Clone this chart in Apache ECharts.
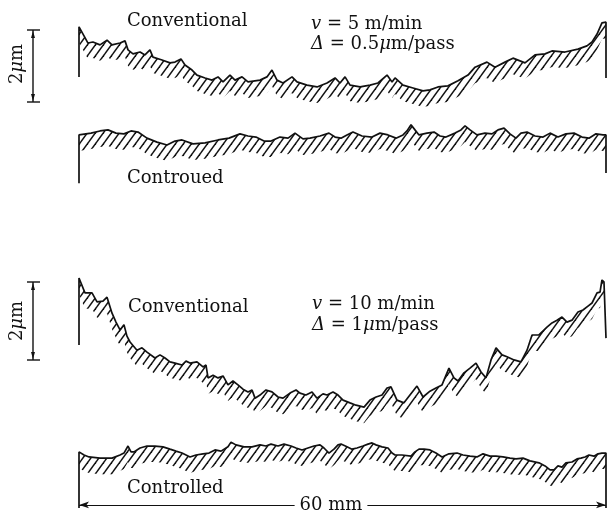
<!DOCTYPE html>
<html>
<head>
<meta charset="utf-8">
<script src="https://cdn.jsdelivr.net/npm/echarts@6/dist/echarts.min.js"></script>
<style>html,body{margin:0;padding:0;background:#fff}#c{width:608px;height:518px}</style>
</head>
<body>
<div id="c"></div>
<script>
// ---- data (x in mm along the 60 mm workpiece, h = profile height in µm) ----
const t1X = [0,0.57,1.02,1.59,2.39,3.19,3.76,4.67,5.24,5.58,6.15,6.95,7.51,8.08,8.42,9.45,10.36,10.93,11.61,12.07,12.87,13.43,14.35,15.14,15.83,16.40,17.19,17.76,18.56,19.24,20.61,21.40,21.97,22.54,23.23,24.25,24.82,25.96,27.10,28.24,29.15,29.72,30.29,30.86,32.00,33.14,34.04,35.07,35.64,35.98,36.89,38.03,39.17,39.96,40.87,42.01,43.15,44.29,45.09,46.45,47.36,48.50,49.41,50.78,51.92,53.06,53.85,55.33,56.81,57.83,58.41,58.98,59.54,60];
const t1H = [2.31,2.06,1.86,1.89,1.81,1.94,1.81,1.86,1.92,1.67,1.56,1.61,1.53,1.67,1.47,1.39,1.31,1.33,1.42,1.25,1.11,0.97,0.89,0.83,0.92,0.78,0.97,0.83,0.92,0.78,0.83,0.92,1.11,0.83,0.75,0.92,0.78,0.69,0.64,0.75,0.89,0.75,0.92,0.69,0.64,0.69,0.75,0.97,0.78,0.89,0.69,0.61,0.53,0.56,0.64,0.67,0.81,0.97,1.19,1.33,1.19,1.33,1.44,1.31,1.53,1.56,1.64,1.61,1.69,1.78,1.89,2.11,2.42,2.44];
const t1Ends = [[0,0.92],[60,0.89]];

const t2X = [0,1.37,2.39,3.30,4.21,5.12,5.92,6.72,7.74,8.88,10.02,10.93,11.73,12.98,14.35,15.83,17.08,18.33,19.24,20.15,21.06,21.86,22.88,23.80,24.59,25.50,26.30,27.44,28.46,29.15,29.83,30.51,31.19,32.22,33.36,34.27,35.18,36.09,36.89,37.34,37.80,38.25,38.71,39.62,40.42,41.10,41.78,42.81,43.49,43.95,44.52,45.31,46.22,47.02,47.70,48.39,49.07,49.75,50.32,51.01,51.92,52.83,53.63,54.53,55.44,56.36,57.27,58.06,58.86,59.66,60];
const t2H = [1.53,1.58,1.64,1.67,1.58,1.56,1.64,1.61,1.44,1.33,1.25,1.36,1.39,1.28,1.31,1.39,1.44,1.56,1.50,1.47,1.36,1.36,1.47,1.44,1.58,1.42,1.44,1.50,1.58,1.47,1.44,1.53,1.61,1.50,1.47,1.58,1.53,1.44,1.53,1.64,1.81,1.67,1.53,1.58,1.61,1.50,1.47,1.58,1.67,1.78,1.67,1.53,1.58,1.56,1.67,1.72,1.56,1.44,1.58,1.61,1.50,1.47,1.58,1.47,1.56,1.58,1.47,1.44,1.56,1.53,1.53];
const t2Ends = [[0,0.19],[60,0.47]];

const t3X = [0,0.68,1.48,2.05,2.73,3.19,3.76,4.21,4.67,5.12,5.46,5.81,6.60,7.17,7.74,8.65,9.22,9.79,10.36,10.93,11.73,12.18,12.64,13.43,14.12,14.46,14.69,15.26,15.83,16.40,16.96,17.53,18.10,18.67,19.24,19.70,20.04,20.61,21.29,21.97,22.66,23.23,24.02,24.71,25.16,25.84,26.53,27.10,27.78,28.24,28.92,29.49,30.06,30.85,31.54,32.45,33.13,33.82,34.50,35.07,35.52,36.20,37.00,37.68,38.48,39.17,39.96,40.64,41.33,42.12,42.69,43.15,43.83,44.52,45.20,45.77,46.34,46.91,47.48,48.16,48.73,49.53,50.32,51.01,51.58,52.37,53.28,53.85,54.42,54.99,55.56,56.13,56.81,57.38,57.95,58.41,58.98,59.32,59.54,59.77];
const t3H = [3.64,3.26,3.26,3.03,3.05,3.15,2.74,2.51,2.31,2.44,2.15,2.00,1.79,1.85,1.74,1.59,1.67,1.59,1.49,1.46,1.41,1.51,1.46,1.49,1.36,1.41,1.08,1.15,1.08,1.13,0.90,1.00,0.90,0.79,0.72,0.77,0.56,0.64,0.77,0.72,0.59,0.56,0.69,0.77,0.69,0.64,0.72,0.56,0.67,0.64,0.72,0.64,0.51,0.44,0.38,0.33,0.51,0.59,0.64,0.82,0.85,0.51,0.44,0.64,0.87,0.59,0.74,0.82,0.90,1.33,1.08,1.00,1.21,1.33,1.46,1.23,1.08,1.54,1.85,1.67,1.62,1.54,1.49,1.79,2.18,2.18,2.38,2.49,2.56,2.64,2.51,2.56,2.77,2.82,2.92,3.00,3.26,3.28,3.59,3.54];
const t3Ends = [[0,1.92],[60,2.10]];

const t4X = [0,0.57,1.14,2.39,3.76,4.67,5.12,5.58,5.92,6.26,6.95,7.74,8.65,9.56,10.36,11.04,11.73,12.64,13.32,14.12,14.80,15.48,16.17,16.96,17.31,17.87,18.79,19.70,20.61,21.29,21.86,22.66,23.34,24.14,24.71,25.39,26.07,26.75,27.44,27.89,28.46,29.03,29.49,29.83,30.51,31.08,31.65,32.33,32.90,33.36,33.81,34.50,35.18,35.64,35.98,36.77,37.80,38.25,38.71,39.28,39.96,40.64,41.33,42.12,43.04,43.72,44.52,45.31,46.00,46.79,47.48,48.27,49.07,49.75,50.55,51.35,52.37,53.06,53.63,54.08,54.53,54.99,55.44,56.13,56.70,57.15,57.61,58.06,58.63,59.09,59.54,60];
const t4H = [1.49,1.41,1.36,1.33,1.33,1.41,1.46,1.64,1.49,1.49,1.59,1.64,1.64,1.62,1.56,1.51,1.46,1.36,1.41,1.44,1.46,1.54,1.51,1.62,1.74,1.67,1.62,1.62,1.67,1.64,1.69,1.64,1.69,1.64,1.59,1.54,1.59,1.64,1.67,1.59,1.46,1.56,1.67,1.69,1.62,1.56,1.59,1.64,1.69,1.72,1.67,1.62,1.59,1.46,1.41,1.41,1.38,1.49,1.56,1.56,1.54,1.46,1.36,1.44,1.46,1.41,1.38,1.36,1.44,1.38,1.38,1.36,1.33,1.31,1.33,1.26,1.21,1.13,1.03,1.03,1.13,1.10,1.21,1.23,1.31,1.33,1.36,1.41,1.38,1.44,1.46,1.46];
const t4Ends = [[0,0.05],[60,0.05]];

const spanMM = [0, 60];
const labels = {
  conv1: 'Conventional', contoured: 'Controued',
  conv2: 'Conventional', controlled: 'Controlled',
  span: '60 mm', scale: '2'
};

// ---- styling / layout ----
const FONT = '"DejaVu Serif", "Liberation Serif", serif';
const INK = '#111';
const FS = 18;
const BAND = 16; // hatch band depth in px

function makeHatch() {
  const w = 8, h = 11;
  const c = document.createElement('canvas');
  c.width = w; c.height = h;
  const g = c.getContext('2d');
  g.strokeStyle = INK; g.lineWidth = 1.5;
  for (const dx of [-w, 0, w]) {
    g.beginPath(); g.moveTo(dx - w, 2 * h); g.lineTo(dx + 2 * w, -h); g.stroke();
  }
  return c;
}
const hatch = { image: makeHatch(), repeat: 'repeat' };

// panels: [top px, height px, yMax µm]
const panels = [[2,108,3],[82,108,3],[264,156,4],[432,78,2]];
const grids = panels.map(p => ({ left: 79, right: 2, top: p[0], height: p[1] }));
const xAxes = panels.map((p,i) => ({ type:'value', gridIndex:i, min:spanMM[0], max:spanMM[1], show:false }));
const yAxes = panels.map((p,i) => ({ type:'value', gridIndex:i, min:0, max:p[2], show:false }));

function bandSeries(i, xs, hs) {
  return {
    type: 'custom', xAxisIndex: i, yAxisIndex: i, silent: true, z: 1,
    data: xs.map((x, k) => [x, hs[k]]),
    renderItem(params, api) {
      if (params.dataIndex !== 0) return null;
      const top = xs.map((x, k) => api.coord([x, hs[k]]));
      const bot = top.map(p => [p[0], p[1] + BAND]).reverse();
      return { type: 'polygon', shape: { points: top.concat(bot) }, style: { fill: hatch, stroke: null } };
    }
  };
}
function lineSeries(i, xs, hs, ends, extra) {
  const data = [ends[0]].concat(xs.map((x, k) => [x, hs[k]]), [ends[1]]);
  return Object.assign({
    type: 'line', xAxisIndex: i, yAxisIndex: i, data, symbol: 'none', showSymbol: false,
    lineStyle: { color: INK, width: 1.7 }, z: 3, silent: true
  }, extra || {});
}

const series = [
  bandSeries(0, t1X, t1H), lineSeries(0, t1X, t1H, t1Ends),
  bandSeries(1, t2X, t2H), lineSeries(1, t2X, t2H, t2Ends),
  bandSeries(2, t3X, t3H), lineSeries(2, t3X, t3H, t3Ends),
  bandSeries(3, t4X, t4H), lineSeries(3, t4X, t4H, t4Ends, {
    markLine: {
      silent: true, symbol: ['arrow', 'arrow'], symbolSize: [5, 10], animation: false,
      lineStyle: { color: INK, width: 1.1, type: 'solid' },
      label: { show: false },
      data: [[{ coord: [spanMM[0], 0.13] }, { coord: [spanMM[1], 0.13] }]]
    }
  })
];

const R = {
  i: { fontStyle: 'italic', fontFamily: FONT, fontSize: FS, fill: INK },
  n: { fontFamily: FONT, fontSize: FS, fill: INK }
};
function txt(x, y, text, extra, styleExtra) {
  return Object.assign({ type: 'text', x, y, silent: true, z: 10, style: Object.assign({
    text, fill: INK, font: FS + 'px ' + FONT,
    align: 'left', verticalAlign: 'middle', rich: R }, styleExtra || {}) }, extra || {});
}
function scaleBar(x, y1, y2, ty) {
  const s = { stroke: INK, lineWidth: 1.4 };
  return [
    { type: 'line', shape: { x1: x, y1, x2: x, y2 }, style: s },
    { type: 'line', shape: { x1: x - 6, y1, x2: x + 7, y2: y1 }, style: s },
    { type: 'line', shape: { x1: x - 6, y1: y2, x2: x + 7, y2 }, style: s },
    { type: 'polygon', shape: { points: [[x, y1 + 1], [x - 2, y1 + 8], [x + 2, y1 + 8]] }, style: { fill: INK } },
    { type: 'polygon', shape: { points: [[x, y2 - 1], [x - 2, y2 - 8], [x + 2, y2 - 8]] }, style: { fill: INK } },
    txt(17, ty, '{n|' + labels.scale + '}{i|μ}{n|m}', { rotation: Math.PI / 2 }, { align: 'center' })
  ];
}

const graphic = [
  txt(127, 21, labels.conv1),
  txt(311, 24, '{i|v}{n| = 5 m/min}'),
  txt(311, 44, '{i|Δ}{n| = 0.5}{i|μ}{n|m/pass}'),
  txt(127, 178, labels.contoured),
  txt(128, 307, labels.conv2),
  txt(312, 304, '{i|v}{n| = 10 m/min}'),
  txt(312, 325, '{i|Δ}{n| = 1}{i|μ}{n|m/pass}'),
  txt(127, 488, labels.controlled),
  txt(331, 505, labels.span, {}, { align: 'center', backgroundColor: '#fff', padding: [1, 5] })
].concat(scaleBar(33, 30, 102, 64), scaleBar(33, 282, 360, 321));

const chart = echarts.init(document.getElementById('c'), null, { renderer: 'canvas' });
chart.setOption({
  backgroundColor: '#fff', animation: false,
  grid: grids, xAxis: xAxes, yAxis: yAxes, series, graphic
});
</script>
</body>
</html>
